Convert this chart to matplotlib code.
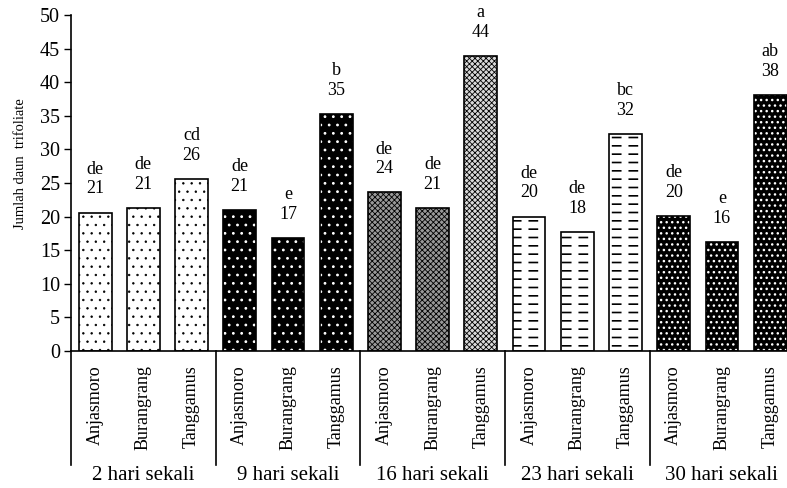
import matplotlib
matplotlib.use('Agg')
import matplotlib.pyplot as plt
import matplotlib.transforms as mtransforms
import numpy as np

plt.rcParams['font.family'] = ['Liberation Serif', 'DejaVu Serif']

groups = ['2 hari sekali', '9 hari sekali', '16 hari sekali', '23 hari sekali', '30 hari sekali']
varieties = ['Anjasmoro', 'Burangrang', 'Tanggamus']
values = [20.6, 21.3, 25.6, 21.0, 16.8, 35.3, 23.6, 21.3, 43.9,
          20.0, 17.7, 32.3, 20.1, 16.2, 38.1]
letters = ['de', 'de', 'cd', 'de', 'e', 'b', 'de', 'de', 'a',
           'de', 'de', 'bc', 'de', 'e', 'ab']

# (facecolor, hatch, hatch colour, hatch linewidth, overlay hatch in white or None)
styles = [
    ('white', '..', 'black', 0.5, None), ('white', '..', 'black', 0.5, None), ('white', '..', 'black', 0.5, None),
    ('black', '..', 'white', 0.8, None), ('black', '..', 'white', 0.8, None), ('black', '..', 'white', 0.8, None),
    ('0.6', 'xxxxxx', 'black', 0.6, None), ('0.6', 'xxxxxx', 'black', 0.6, None), ('0.85', 'xxxxxx', 'black', 0.6, None),
    ('white', '--', 'black', 1.2, '|'), ('white', '--', 'black', 1.2, '|'), ('white', '--', 'black', 1.2, '|'),
    ('black', '...', 'white', 1.0, None), ('black', '...', 'white', 1.0, None), ('black', '...', 'white', 1.0, None),
]

fig = plt.figure(figsize=(7.87, 4.88), dpi=100)
ax = fig.add_axes([71 / 787, 137 / 488, 1 - 71 / 787, 336 / 488])

x = np.arange(len(values))
w = 0.68
for i, v in enumerate(values):
    fc, h, hc, hlw, over = styles[i]
    with plt.rc_context({'hatch.linewidth': hlw}):
        ax.bar(x[i], v, w, color=fc, edgecolor=hc, hatch=h, linewidth=0)
    if over:
        with plt.rc_context({'hatch.linewidth': 5.0}):
            ax.bar(x[i], v, w, fill=False, edgecolor='white', hatch=over, linewidth=0)
    ax.bar(x[i], v, w, fill=False, edgecolor='black', linewidth=1.2)
    ax.annotate('%s\n%.0f' % (letters[i], v), (x[i], v), xytext=(0, 11),
                textcoords='offset points', ha='center', va='bottom',
                fontsize=13, linespacing=1.2)

ax.set_xlim(-0.5, 14.35)
ax.set_ylim(0, 50)
ax.set_yticks(np.arange(0, 51, 5))
ax.tick_params(axis='y', direction='out', length=5, width=1, labelsize=14.5, pad=3)
ax.set_xticks(x)
ax.set_xticklabels(varieties * len(groups), rotation=90, fontsize=13)
ax.tick_params(axis='x', length=0, pad=10)
for s in ['top', 'right']:
    ax.spines[s].set_visible(False)
ax.spines['left'].set_linewidth(1.2)
ax.spines['bottom'].set_linewidth(1.2)
ax.set_ylabel('Jumlah daun  trifoliate', fontsize=10.5, labelpad=9)
ax.yaxis.label.set_y(0.557)

trans = mtransforms.blended_transform_factory(ax.transData, ax.transAxes)
for g in range(len(groups)):
    left = g * 3 - 0.5
    ax.plot([left, left], [0, -0.339], color='black', lw=1.2,
            transform=trans, clip_on=False)
    ax.text(g * 3 + 1, -0.372, groups[g], transform=trans, ha='center',
            va='center', fontsize=15)

fig.savefig('out.png', dpi=100)
